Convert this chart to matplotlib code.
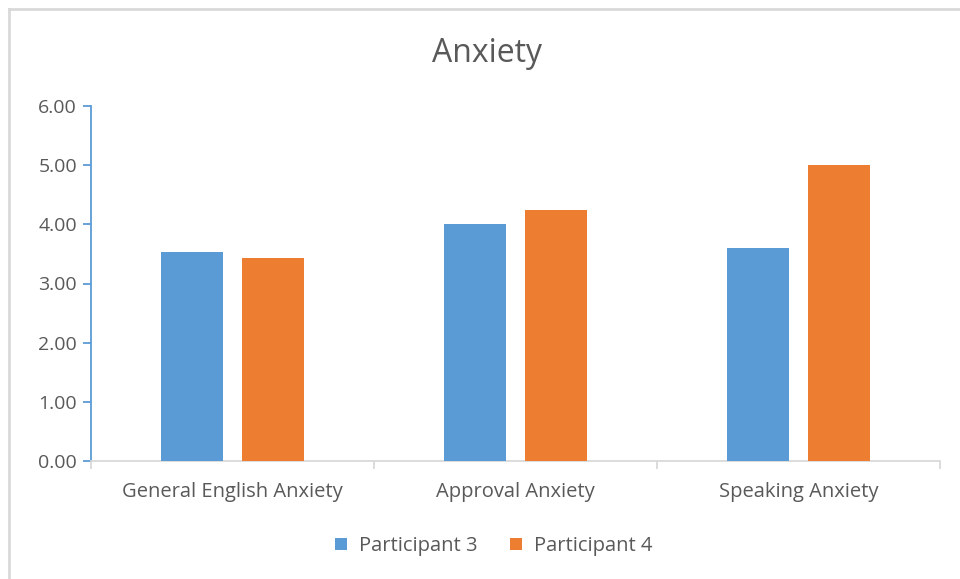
import matplotlib
matplotlib.use("Agg")
import matplotlib.pyplot as plt
from matplotlib.lines import Line2D
import numpy as np

categories = ["General English Anxiety", "Approval Anxiety", "Speaking Anxiety"]
series_names = ["Participant 3", "Participant 4"]
participant3 = [3.53, 4.00, 3.60]
participant4 = [3.43, 4.24, 5.00]
y_ticks = [0, 1, 2, 3, 4, 5, 6]

BLUE = "#5B9BD5"
ORANGE = "#ED7D31"
TEXT = "#595959"
GRID = "#D9D9D9"

plt.rcParams["font.family"] = ["Open Sans", "DejaVu Sans"]

W, H = 960, 579
fig = plt.figure(figsize=(W / 100, H / 100), dpi=100)
fig.patch.set_facecolor("white")

# chart border (top and left edges)
fig.add_artist(Line2D([8.5 / W, 8.5 / W], [0, 1 - 8.5 / H], color=GRID, lw=2))
fig.add_artist(Line2D([8.5 / W, 1], [1 - 8.5 / H, 1 - 8.5 / H], color=GRID, lw=2))

left, right, bottom, top = 91, 940, 461, 106
ax = fig.add_axes([left / W, 1 - bottom / H, (right - left) / W, (bottom - top) / H])

x = np.arange(len(categories))
width = 0.22
offset = 0.143
ax.bar(x - offset, participant3, width, color=BLUE, label=series_names[0], zorder=3)
ax.bar(x + offset, participant4, width, color=ORANGE, label=series_names[1], zorder=3)

ax.set_xlim(-0.5, len(categories) - 0.5)
ax.set_ylim(0, 6)
ax.set_yticks(y_ticks)
ax.set_yticklabels([f"{v:.2f}" for v in y_ticks], color=TEXT, fontsize=14)

for s in ["top", "right"]:
    ax.spines[s].set_visible(False)
ax.spines["left"].set_color(BLUE)
ax.spines["left"].set_linewidth(1.3)
ax.spines["bottom"].set_color(GRID)
ax.spines["bottom"].set_linewidth(1.3)
ax.tick_params(axis="y", colors=BLUE, length=6, width=1.3, pad=4, labelcolor=TEXT)

# category boundary ticks on the x axis
ax.set_xticks(np.arange(-0.5, len(categories), 1.0))
ax.set_xticklabels([])
ax.tick_params(axis="x", colors=GRID, length=6, width=1.3)
for i, c in enumerate(categories):
    ax.text(i, -0.35, c, ha="center", va="top", color=TEXT, fontsize=14.5,
            transform=ax.transData)

fig.text(487 / W, 1 - 53 / H, "Anxiety", ha="center", va="center",
         color=TEXT, fontsize=23)

leg = fig.legend(loc="center", bbox_to_anchor=(494 / W, 1 - 546 / H), ncol=2,
                 frameon=False, fontsize=14.5, handlelength=0.6, handleheight=0.6,
                 handletextpad=0.6, columnspacing=1.6)
for t in leg.get_texts():
    t.set_color(TEXT)

fig.savefig("out.png", dpi=100)
